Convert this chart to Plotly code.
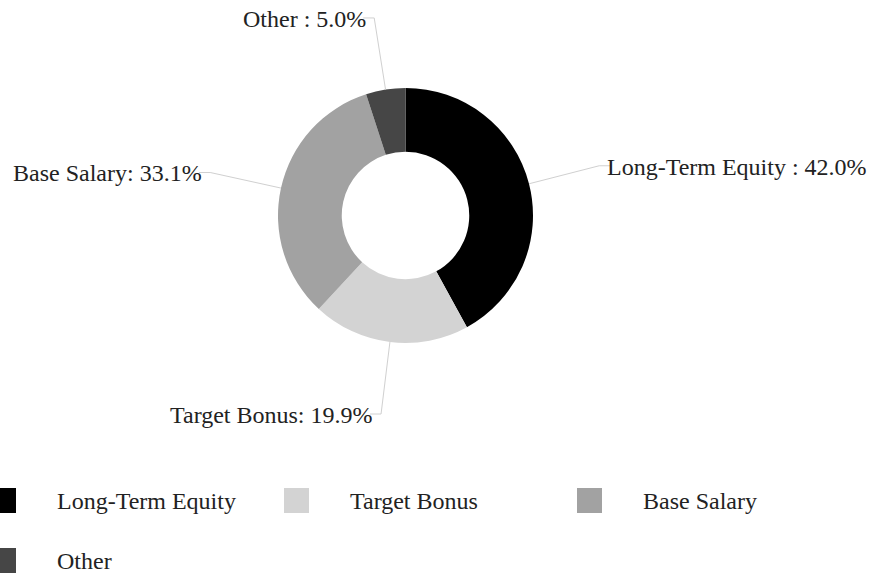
import math
import plotly.graph_objects as go

# ---- data ----
categories = ["Long-Term Equity", "Target Bonus", "Base Salary", "Other"]
values = [42.0, 19.9, 33.1, 5.0]
label_separators = [" : ", ": ", ": ", " : "]
colors = ["#000000", "#d3d3d3", "#a2a2a2", "#464646"]

# ---- layout constants (pixels) ----
W, H = 883, 576
CX, CY = 405.5, 215.5          # donut centre
R = 127.5                      # outer radius
R_ELBOW = 200                  # leader line elbow radius
H_LEN = 11                     # horizontal leader segment
GAP = -5
FONT = "Liberation Serif, Times New Roman, serif"
TEXT_COLOR = "#222222"
LINE_COLOR = "#d0d0d0"


def px(x):
    return x / W


def py(y):
    return 1 - y / H


fig = go.Figure()
fig.add_trace(go.Pie(
    labels=categories,
    values=values,
    marker=dict(colors=colors, line=dict(width=0)),
    hole=0.5,
    sort=False,
    direction="clockwise",
    rotation=0,
    textinfo="none",
    showlegend=False,
    domain=dict(x=[px(CX - R), px(CX + R)], y=[py(CY + R), py(CY - R)]),
))

shapes = []
annotations = []
total = sum(values)
cum = 0.0
for name, v, sep in zip(categories, values, label_separators):
    mid = (cum + v / 2) / total
    cum += v
    th = mid * 2 * math.pi
    sx, sy = CX + R * math.sin(th), CY - R * math.cos(th)
    ex, ey = CX + R_ELBOW * math.sin(th), CY - R_ELBOW * math.cos(th)
    side = 1 if math.sin(th) >= 0 else -1
    hx = ex + side * H_LEN
    path = f"M{px(sx)},{py(sy)} L{px(ex)},{py(ey)} L{px(hx)},{py(ey)}"
    shapes.append(dict(type="path", xref="paper", yref="paper", path=path,
                       line=dict(color=LINE_COLOR, width=1)))
    annotations.append(dict(
        xref="paper", yref="paper", x=px(hx + side * GAP), y=py(ey + 1),
        text=f"{name}{sep}{v:.1f}%", showarrow=False,
        xanchor="left" if side > 0 else "right", yanchor="middle",
        font=dict(family=FONT, size=24, color=TEXT_COLOR),
    ))

# ---- custom legend ----
LEG_X0, LEG_STEP, LEG_COLS = -9, 293, 3
LEG_Y0, LEG_ROW = 500.5, 60
SQ = 25
for i, (name, c) in enumerate(zip(categories, colors)):
    col, row = i % LEG_COLS, i // LEG_COLS
    x0 = LEG_X0 + col * LEG_STEP
    yc = LEG_Y0 + row * LEG_ROW
    shapes.append(dict(type="rect", xref="paper", yref="paper",
                       x0=px(x0), x1=px(x0 + SQ), y0=py(yc + SQ / 2), y1=py(yc - SQ / 2),
                       fillcolor=c, line=dict(width=0)))
    annotations.append(dict(
        xref="paper", yref="paper", x=px(x0 + 64), y=py(yc),
        text=name, showarrow=False, xanchor="left", yanchor="middle",
        font=dict(family=FONT, size=24, color=TEXT_COLOR),
    ))

fig.update_layout(
    width=W, height=H,
    margin=dict(l=0, r=0, t=0, b=0),
    paper_bgcolor="white", plot_bgcolor="white",
    shapes=shapes, annotations=annotations,
    showlegend=False,
)

fig.write_html(
    "out.html",
    config={"displayModeBar": False},
    post_script="document.body.style.margin='0';document.body.style.overflow='hidden';",
)
